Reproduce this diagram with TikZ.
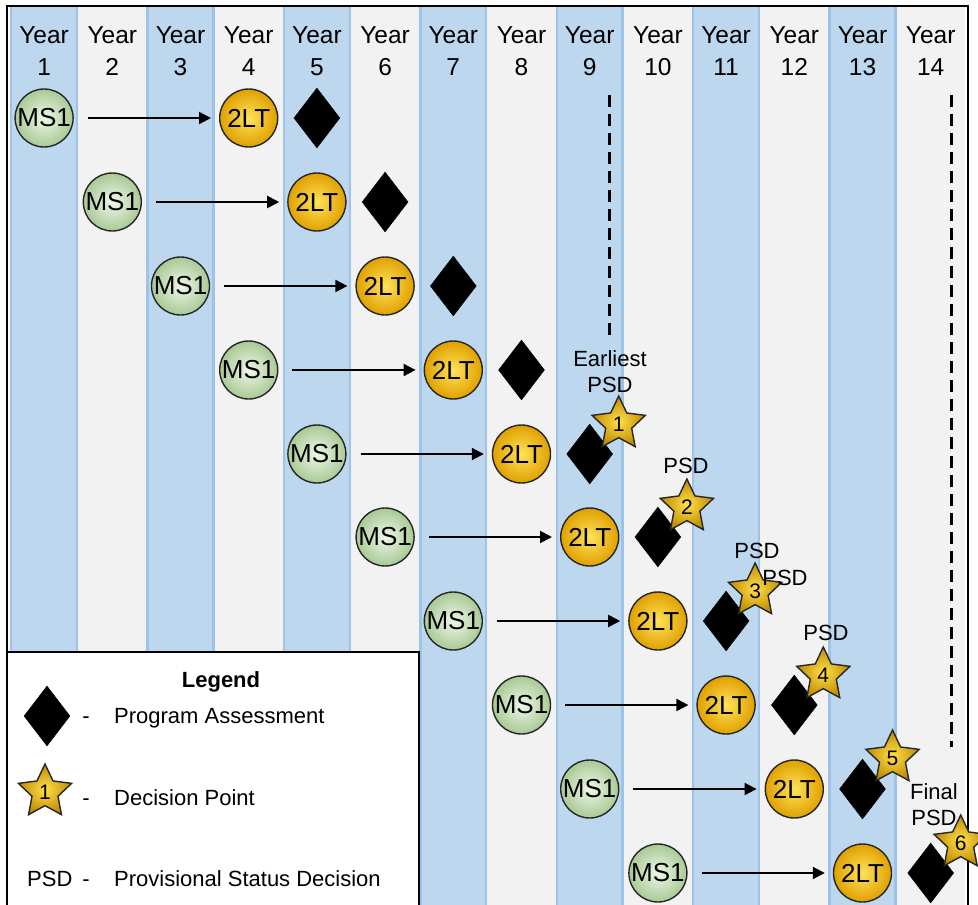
\documentclass[tikz,border=0pt]{standalone}
\usepackage{fontspec}
\setmainfont{Liberation Sans}
\usetikzlibrary{shapes.geometric,arrows.meta}
\definecolor{bandblue}{HTML}{BDD7EE}
\definecolor{bandedge}{HTML}{9DC3E6}
\definecolor{bandgray}{HTML}{F2F2F2}
\definecolor{msin}{HTML}{EEF7E8}
\definecolor{msout}{HTML}{A9C995}
\definecolor{ltin}{HTML}{FFE35A}
\definecolor{ltout}{HTML}{E0A000}
\definecolor{stin}{HTML}{FFE04A}
\definecolor{stout}{HTML}{BF8A00}
\newcommand\yrfont{\fontsize{24.5}{32}\selectfont}
\newcommand\lblfont{\fontsize{22}{26}\selectfont}
\newcommand\ballfont{\fontsize{26}{28}\selectfont}
\newcommand\numfont{\fontsize{21}{22}\selectfont}
\tikzset{
  ms/.style={circle, minimum size=58, inner sep=0, draw=black!85, line width=1.4,
    shading=radial, inner color=msin, outer color=msout, font=\ballfont},
  lt/.style={circle, minimum size=58, inner sep=0, draw=black!85, line width=1.4,
    shading=radial, inner color=ltin, outer color=ltout, font=\ballfont},
  pa/.style={diamond, fill=black, draw=black, minimum width=46, minimum height=60,
    inner sep=0, shape aspect=0.77},
  decpt/.style={star, star points=5, star point ratio=2.05, minimum size=56, inner sep=0,
    draw=black!85, line width=1.4, shading=radial, inner color=stin, outer color=stout,
    font=\numfont},
  arr/.style={line width=2, -{Triangle[length=12, width=12]}},
  guide/.style={line width=3, dash pattern=on 12 off 7},
  lbl/.style={font=\lblfont, align=center, inner sep=0},
  yr/.style={font=\yrfont, align=center, inner sep=0},
}
\begin{document}
\begin{tikzpicture}[x=1pt, y=-1pt]
\useasboundingbox (0,0) rectangle (978,905);
\fill[white] (0,0) rectangle (978,905);

% year bands
\foreach \c [evaluate=\c as \xl using 10+68.2*(\c-1),
             evaluate=\c as \xr using 10+68.2*\c] in {1,...,14} {
  \ifodd\c
    \fill[bandblue] (\xl,7) rectangle (\xr,905);
    \draw[bandedge, line width=2.5] (\xl+1.2,7) -- (\xl+1.2,905) (\xr-1.2,7) -- (\xr-1.2,905);
  \else
    \fill[bandgray] (\xl,7) rectangle (\xr,905);
  \fi
}

% outer frame
\draw[black, line width=2.5] (7,6) rectangle (968,906);

% year headings
\foreach \c [evaluate=\c as \xm using 10+68.2*(\c-0.5)] in {1,...,14}
  \node[yr] (yr\c) at (\xm,51) {Year\\\c};

% guide lines
\coordinate (g1a) at (609,95);
\coordinate (g1b) at (609,338);
\coordinate (g2a) at (951,95);
\coordinate (g2b) at (951,747);
\draw[guide] (g1a) -- (g1b);
\draw[guide] (g2a) -- (g2b);

% cohorts: MS1 -> 2LT -> program assessment
\foreach \i [evaluate=\i as \y using round(118+83.9*(\i-1)),
             evaluate=\i as \xa using 10+68.2*(\i-0.5),
             evaluate=\i as \xb using 10+68.2*(\i+2.5),
             evaluate=\i as \xc using 10+68.2*(\i+3.5)] in {1,...,10} {
  \node[ms] (ms\i) at (\xa,\y) {MS1};
  \node[lt] (lt\i) at (\xb,\y) {2LT};
  \node[pa] (pa\i) at (\xc,\y) {};
  \draw[arr] ([xshift=14]ms\i.east) -- ([xshift=-8]lt\i.west);
}

% decision points
\node[decpt] (dp1) at ([shift={(29,-30)}]pa5.center) {1};
\node[decpt] (dp2) at ([shift={(29,-30)}]pa6.center) {2};
\node[decpt] (dp3) at ([shift={(29,-30)}]pa7.center) {3};
\node[decpt] (dp4) at ([shift={(29,-30)}]pa8.center) {4};
\node[decpt] (dp5) at ([shift={(30,-31)}]pa9.center) {5};
\node[decpt] (dp6) at ([shift={(30,-30)}]pa10.center) {6};

% decision labels
\node[lbl] (l1) at (610,372) {Earliest\\PSD};
\node[lbl] (l2) at (686,466) {PSD};
\node[lbl] (l3a) at (757,551) {PSD};
\node[lbl] (l3b) at (785,578) {PSD};
\node[lbl] (l4) at (826,633) {PSD};
\node[lbl] (l6) at (934,805) {Final\\PSD};

% legend
\draw[black, line width=2, fill=white] (7,652) rectangle (419,906);
\node[lbl, font=\lblfont\bfseries] (lgt) at (221,682) {Legend};
\node[pa] (lgpa) at (47,716) {};
\node[lbl, anchor=base] (lgd1) at (86,723) {-};
\node[lbl, anchor=base west] (lgx1) at (114,723) {Program Assessment};
\node[decpt] (lgdp) at (45,792) {1};
\node[lbl, anchor=base] (lgd2) at (86,805) {-};
\node[lbl, anchor=base west] (lgx2) at (114,805) {Decision Point};
\node[lbl, anchor=base west] (lgpsd) at (27,886) {PSD};
\node[lbl, anchor=base] (lgd3) at (86,886) {-};
\node[lbl, anchor=base west] (lgx3) at (114,886) {Provisional Status Decision};
\end{tikzpicture}
\end{document}
